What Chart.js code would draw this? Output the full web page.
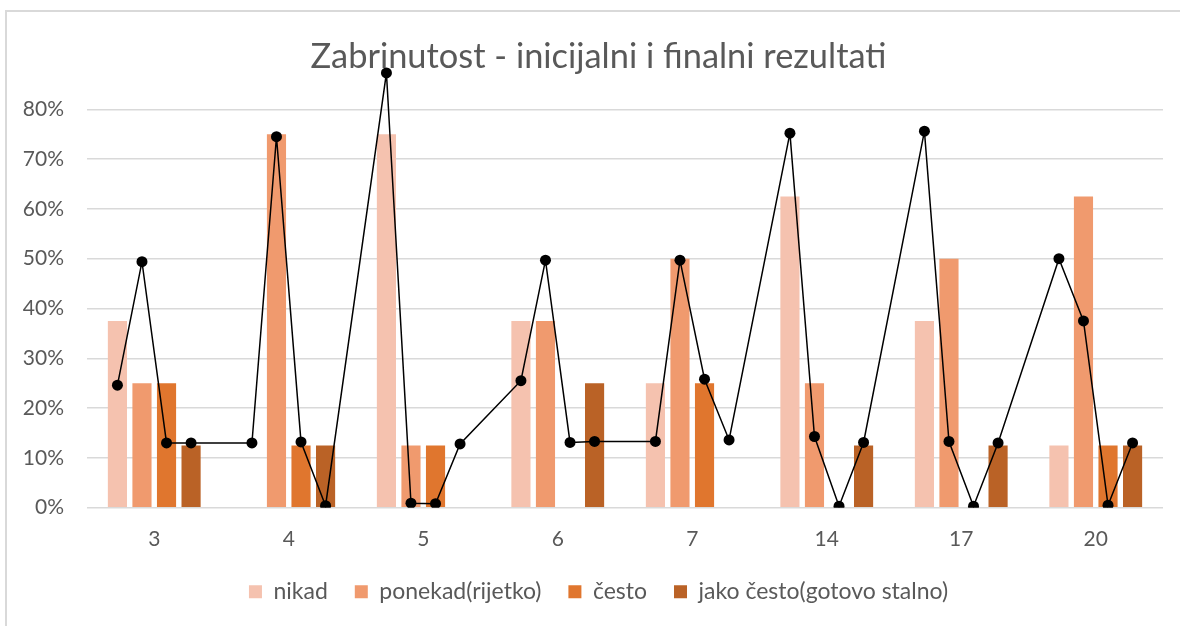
<!DOCTYPE html>
<html>
<head>
<meta charset="utf-8">
<script src="https://cdn.jsdelivr.net/npm/chart.js@4.4.0/dist/chart.umd.min.js"></script>
<style>
  html, body { margin: 0; padding: 0; background: #fff; overflow: hidden; }
  #wrap { position: relative; width: 1180px; height: 626px; overflow: hidden; }
  #chart { position: absolute; left: 0; top: 0; }
  #frame { position: absolute; left: 5px; top: 10px; width: 1210px; height: 700px; border: 2px solid #d9d9d9; pointer-events: none; }
</style>
</head>
<body>
<div id="wrap">
  <canvas id="chart" width="1197" height="626"></canvas>
  <div id="frame"></div>
</div>
<script>
// Categories on the x axis
const categories = ['3', '4', '5', '6', '7', '14', '17', '20'];

// Answer shares per category (bars)
const seriesNames = ['nikad', 'ponekad(rijetko)', 'često', 'jako često(gotovo stalno)'];
const nikad = [0.375, 0, 0.75, 0.375, 0.25, 0.625, 0.375, 0.125];
const ponekad = [0.25, 0.75, 0.125, 0.375, 0.5, 0.25, 0.5, 0.625];
const cesto = [0.25, 0.125, 0.125, 0, 0.25, 0, 0, 0.125];
const jakoCesto = [0.125, 0.125, 0, 0.25, 0, 0.125, 0.125, 0.125];

// Line values, four per category (one for each answer)
const lineValues = [
  0.246, 0.494, 0.130, 0.130,
  0.130, 0.745, 0.132, 0.004,
  0.873, 0.009, 0.008, 0.128,
  0.255, 0.497, 0.131, 0.133,
  0.133, 0.497, 0.258, 0.136,
  0.752, 0.143, 0.003, 0.131,
  0.756, 0.133, 0.003, 0.130,
  0.500, 0.375, 0.005, 0.130,
];

// y axis range and tick step
const yMax = 0.9;
const yStep = 0.1;

const barColors = ['#F5C2AF', '#F09A6E', '#E0762E', '#BA6226'];
const textColor = '#595959';
const gridColor = '#d9d9d9';
const categoryPct = 0.73;

Chart.defaults.font.family = 'Lato, "Open Sans", sans-serif';

// bars sit on category index i of a numeric x axis
const barSets = [nikad, ponekad, cesto, jakoCesto].map((values, i) => ({
  label: seriesNames[i],
  data: values.map((v, c) => ({ x: c, y: v })),
  backgroundColor: barColors[i],
  categoryPercentage: categoryPct,
  barPercentage: 0.78,
  order: 1,
}));

// each line point sits over the bar of its answer
const linePoints = lineValues.map((value, k) => ({
  x: Math.floor(k / 4) + ((k % 4) - 1.5) * categoryPct / 4,
  y: value,
}));

new Chart(document.getElementById('chart'), {
  type: 'bar',
  data: {
    datasets: [
      ...barSets,
      {
        type: 'line',
        label: 'linija',
        data: linePoints,
        borderColor: '#000',
        borderWidth: 1.5,
        pointRadius: 5.5,
        pointBackgroundColor: '#000',
        pointBorderWidth: 0,
        tension: 0,
        order: 0,
      },
    ],
  },
  options: {
    responsive: false,
    animation: false,
    layout: { padding: { left: 0, right: 0, top: 0, bottom: 12.8 } },
    plugins: {
      tooltip: { enabled: false },
      title: {
        display: true,
        text: 'Zabrinutost - inicijalni i finalni rezultati',
        color: textColor,
        font: { size: 34.4, weight: 'normal', lineHeight: 1 },
        padding: { top: 39.3, bottom: -14.2 },
      },
      legend: {
        position: 'bottom',
        labels: {
          boxWidth: 13,
          boxHeight: 13,
          padding: 27,
          color: textColor,
          font: { size: 23 },
          filter: (item) => item.datasetIndex < 4,
        },
      },
    },
    scales: {
      x: {
        type: 'linear',
        min: -0.5,
        max: categories.length - 0.5,
        offset: false,
        grid: { display: false, drawTicks: false },
        border: { display: false },
        afterBuildTicks: (scale) => {
          scale.ticks = categories.map((c, i) => ({ value: i }));
        },
        ticks: {
          autoSkip: false,
          maxRotation: 0,
          color: textColor,
          font: { size: 21 },
          padding: 19,
          callback: (v) => categories[v] ?? '',
        },
        afterFit: (scale) => { scale.height = 45.5; },
      },
      y: {
        min: 0,
        max: yMax,
        border: { display: false },
        grid: {
          drawTicks: false,
          lineWidth: 1.5,
          color: (ctx) => (ctx.tick && ctx.tick.value > yMax - yStep / 2 ? 'rgba(0,0,0,0)' : gridColor),
        },
        ticks: {
          stepSize: yStep,
          padding: 23,
          color: textColor,
          font: { size: 21 },
          callback: (v) => (v > yMax - yStep / 2 ? '' : Math.round(v * 100) + '%'),
        },
        afterFit: (scale) => { scale.width = 87; },
      },
      // empty right-hand strip, keeps the plot narrower than the title box
      yRight: {
        position: 'right',
        grid: { display: false, drawTicks: false },
        border: { display: false },
        ticks: { display: false },
        afterFit: (scale) => { scale.width = 34; },
      },
    },
  },
});
</script>
</body>
</html>
